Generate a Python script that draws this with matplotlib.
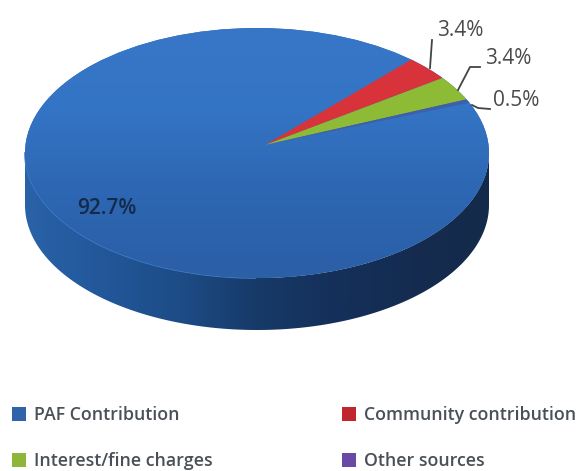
import numpy as np
import matplotlib
matplotlib.use("Agg")
import matplotlib.pyplot as plt
from matplotlib.colors import LinearSegmentedColormap
from matplotlib.patches import PathPatch, Ellipse
from matplotlib.path import Path

categories = ["PAF Contribution", "Community contribution", "Interest/fine charges", "Other sources"]
values = [92.7, 3.4, 3.4, 0.5]
value_labels = ["92.7%", "3.4%", "3.4%", "0.5%"]
colors = ["#2f6cbc", "#d8323a", "#8ebb35", "#3f5fa8"]
legend_colors = ["#2f64a8", "#c0272d", "#8db63a", "#6b4aa5"]

W, H = 584, 471
plt.rcParams["font.family"] = "Open Sans"
fig = plt.figure(figsize=(W / 100, H / 100), dpi=100)

bg = fig.add_axes([0, 0, 1, 1])
bg.set_xlim(0, W); bg.set_ylim(H, 0); bg.axis("off")

cx, cy, rx, ry, depth = 257, 153, 232, 125, 52
apex_x, apex_y = 265, 145

# side wall of the 3-D pie
t = np.linspace(0, np.pi, 200)
xe, ye = cx + rx * np.cos(t), cy + ry * np.sin(t)
verts = list(zip(xe, ye + depth)) + list(zip(xe[::-1], ye[::-1]))
path = Path(verts + [verts[0]], [Path.MOVETO] + [Path.LINETO] * (len(verts) - 1) + [Path.CLOSEPOLY])
patch = PathPatch(path, fc="none", ec="none", transform=bg.transData)
bg.add_patch(patch)
cmap = LinearSegmentedColormap.from_list("side", ["#2a62a8", "#22579a", "#1d4c86", "#173a68", "#14305a", "#142c50", "#152a4a"])
grad = np.linspace(0, 1, 256).reshape(1, -1)
im = bg.imshow(grad, cmap=cmap, extent=[cx - rx, cx + rx, H, 0], aspect="auto", zorder=1)
im.set_clip_path(patch)
bg.set_xlim(0, W); bg.set_ylim(H, 0)

# top face of the pie
ax = fig.add_axes([(cx - rx) / W, 1 - (cy + ry) / H, 2 * rx / W, 2 * ry / H])
ax.patch.set_alpha(0)
pc = ((apex_x - cx) / rx, (cy - apex_y) / ry)
wedges, _ = ax.pie(values, colors=colors, startangle=21, counterclock=False, radius=1.2,
                   center=pc, wedgeprops=dict(linewidth=0))
ax.set_aspect("auto")
ax.set_xlim(-1, 1); ax.set_ylim(-1, 1)
ax.axis("off")
face = Ellipse((0, 0), 2, 2, fc="none", ec="none", transform=ax.transData)
ax.add_patch(face)
face_cmap = LinearSegmentedColormap.from_list("face", ["#2b5fa6", "#2d66b2", "#3474c4", "#3877c8"])
fim = ax.imshow(np.linspace(0, 1, 256).reshape(-1, 1), cmap=face_cmap, origin="lower",
                extent=[-1, 1, -1, 1], aspect="auto", zorder=2)
fim.set_clip_path(face)
for w in wedges:
    w.set_clip_on(True)
    w.set_clip_path(face)
wedges[0].set_zorder(1)
for w in wedges[1:]:
    w.set_zorder(3)
ax.set_xlim(-1, 1); ax.set_ylim(-1, 1)
bg.plot(xe[100:], ye[100:], color="#3f7fc8", lw=1.2, zorder=2)

# overlay for labels, leaders and legend
ov = fig.add_axes([0, 0, 1, 1])
ov.set_xlim(0, W); ov.set_ylim(H, 0); ov.axis("off"); ov.patch.set_alpha(0)

tc = "#4a4a4a"
ov.text(77, 209, value_labels[0], fontsize=15, color="#142a4a", va="center", fontweight="semibold")
ov.text(437, 31, value_labels[1], fontsize=15, color=tc, va="center")
ov.text(485, 58, value_labels[2], fontsize=15, color=tc, va="center")
ov.text(493, 101, value_labels[3], fontsize=15, color=tc, va="center")
ov.plot([432, 430], [40, 68], color="#444444", lw=1.3)
ov.plot([480, 470, 458], [67, 67, 90], color="#444444", lw=1.3)
ov.plot([490, 478, 472], [109, 108, 105], color="#444444", lw=1.3)

leg_x = [13, 343]
leg_y = [415, 461]
for i, (name, col) in enumerate(zip(categories, legend_colors)):
    x, y = leg_x[i % 2], leg_y[i // 2]
    ov.scatter([x + 6], [y - 1], marker="s", s=90, color=col, linewidths=0)
    ov.text(x + 21, y, name, fontsize=12.8, color="#4a5058", va="center", fontweight="semibold")

fig.savefig("out.png", dpi=100)
